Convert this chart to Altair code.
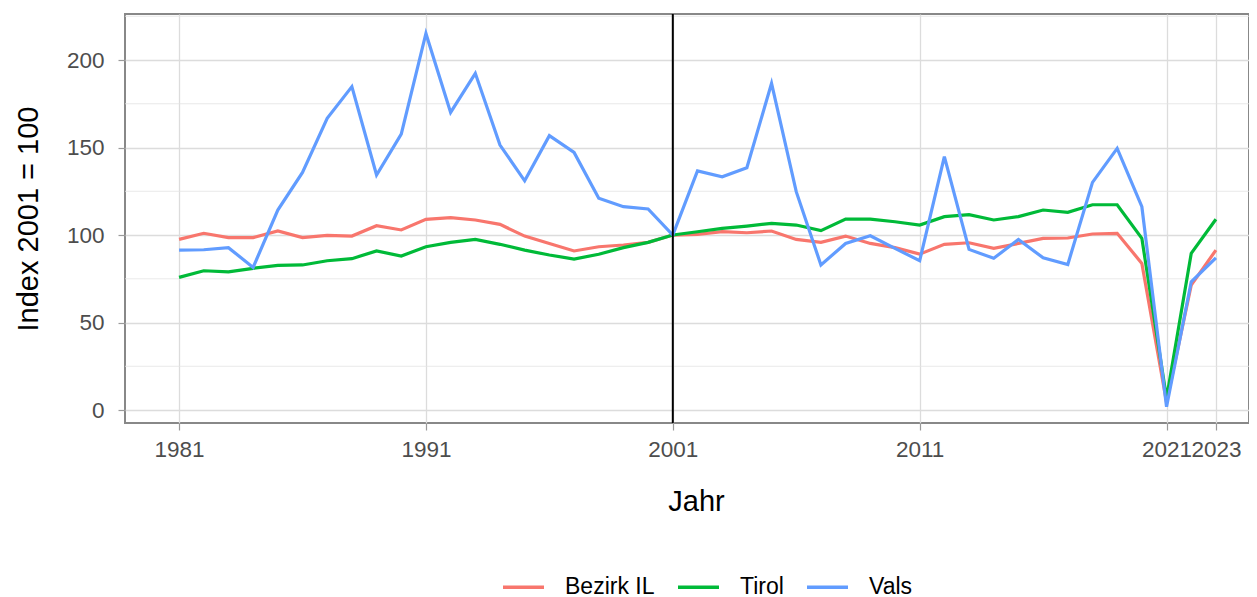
import altair as alt
import pandas as pd

# ---- data ----
years = list(range(1981, 2024))

bezirk_il = [97.5, 101.0, 98.5, 98.5, 102.3, 98.5, 99.8, 99.4, 105.3, 102.9,
             109.0, 109.9, 108.6, 106.1, 99.4, 95.2, 90.9, 93.3, 94.3, 95.8,
             100.0, 100.4, 101.9, 101.3, 102.3, 97.5, 95.8, 99.4, 95.2, 92.8,
             89.1, 94.7, 95.6, 92.4, 95.2, 98.1, 98.3, 100.6, 101.0, 83.8,
             4.5, 71.4, 91.4]

tirol = [75.8, 79.6, 79.0, 81.0, 82.7, 82.9, 85.3, 86.5, 90.9, 88.0,
         93.3, 95.8, 97.5, 94.7, 91.4, 88.6, 86.3, 89.0, 92.8, 95.8,
         100.0, 101.9, 103.8, 105.1, 106.7, 105.7, 102.5, 109.1, 109.1, 107.6,
         105.7, 110.5, 111.6, 108.6, 110.5, 114.3, 113.0, 117.3, 117.3, 98.1,
         6.7, 89.5, 109.0]

vals = [91.4, 91.6, 92.8, 81.5, 114.3, 135.8, 166.7, 184.8, 134.3, 157.7,
        215.2, 170.1, 192.4, 151.4, 131.0, 156.8, 147.2, 121.0, 116.2, 114.9,
        100.0, 136.6, 133.3, 138.5, 186.7, 124.8, 82.9, 95.2, 99.6, 92.4,
        85.3, 144.8, 91.8, 86.7, 97.5, 87.0, 83.2, 130.1, 149.5, 116.2,
        1.9, 73.3, 87.0]

series_names = ["Bezirk IL", "Tirol", "Vals"]
series_colors = ["#F8766D", "#00BA38", "#619CFF"]
x_breaks = [1981, 1991, 2001, 2011, 2021, 2023]
y_breaks = [0, 50, 100, 150, 200]
y_minor = [25, 75, 125, 175, 225]
ref_year = [2001]

rows = []
for name, values in zip(series_names, [bezirk_il, tirol, vals]):
    for yr, v in zip(years, values):
        rows.append({"Jahr": yr, "Index": v, "Region": name})
df = pd.DataFrame(rows)

FONT = "Liberation Sans"
W, H = 1124, 409

x_scale = alt.Scale(domain=[1978.81, 2024.34], nice=False, zero=False)
y_scale = alt.Scale(domain=[-7.4, 226.3], nice=False, zero=False)

x_axis = alt.Axis(
    values=x_breaks, format="d", title="Jahr",
    labelFontSize=22.5, labelFont=FONT, labelColor="#4d4d4d",
    labelPadding=8, labelOverlap=False, labelFlush=False, labelBound=False,
    tickSize=7, tickColor="#9a9a9a", tickWidth=1.2,
    domain=False, grid=True, gridColor="#dcdcdc", gridWidth=1.3,
    titleFont=FONT, titleFontSize=29, titleFontWeight="normal",
    titleColor="#000000", titleX=571, titleY=87,
    titleBaseline="alphabetic", titleAlign="center",
)

y_axis = alt.Axis(
    values=y_breaks, title="Index 2001 = 100",
    labelFontSize=22.5, labelFont=FONT, labelColor="#4d4d4d",
    labelPadding=14, labelOverlap=False, labelFlush=False,
    tickSize=7, tickColor="#9a9a9a", tickWidth=1.2,
    domain=False, grid=True, gridColor="#dcdcdc", gridWidth=1.3,
    titleFont=FONT, titleFontSize=29, titleFontWeight="normal",
    titleColor="#000000", titleX=-88, titleY=H / 2,
    titleAngle=270, titleBaseline="alphabetic", titleAlign="center",
)

minor = alt.Chart(pd.DataFrame({"v": y_minor})).mark_rule(
    color="#e3e3e3", strokeWidth=0.8
).encode(y=alt.Y("v:Q", scale=y_scale, axis=y_axis, title="Index 2001 = 100"))

lines = alt.Chart(df).mark_line(strokeWidth=3.2).encode(
    x=alt.X("Jahr:Q", scale=x_scale, axis=x_axis),
    y=alt.Y("Index:Q", scale=y_scale, axis=y_axis),
    color=alt.Color(
        "Region:N",
        scale=alt.Scale(domain=series_names, range=series_colors),
        legend=alt.Legend(
            title=None, orient="none", direction="horizontal",
            legendX=376, legendY=550.5,
            labelFont=FONT, labelFontSize=23, labelColor="#000000",
            labelLimit=400, labelOffset=19, columnPadding=16,
            symbolType="stroke", symbolSize=1681, symbolStrokeWidth=3.5,
        ),
    ),
)

vline = alt.Chart(pd.DataFrame({"x": ref_year})).mark_rule(
    color="#000000", strokeWidth=2
).encode(x=alt.X("x:Q", scale=x_scale, axis=x_axis, title="Jahr"))

chart = alt.layer(minor, lines, vline).properties(
    width=W,
    height=H,
    autosize=alt.AutoSizeParams(type="none"),
    padding={"left": 117, "top": 6, "right": 0, "bottom": 182},
    background="#ffffff",
).configure_view(stroke="#888888", strokeWidth=2)

chart.save("out.html", embed_options={"renderer": "svg", "actions": False})
